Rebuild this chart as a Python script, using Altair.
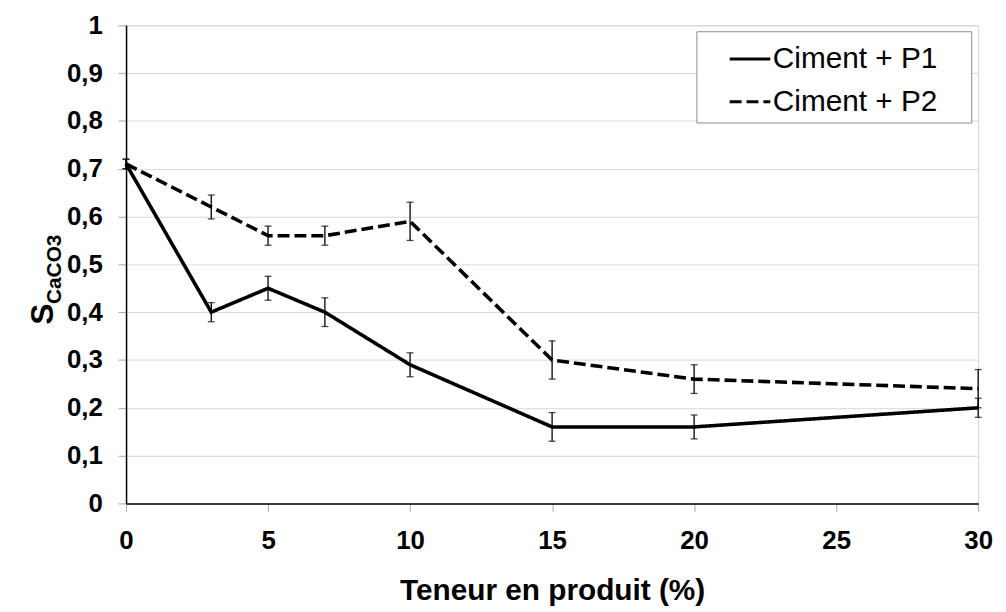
import altair as alt
import pandas as pd

# ---- data ----
teneur = [0, 3, 5, 7, 10, 15, 20, 30]
p1 = [0.71, 0.40, 0.45, 0.40, 0.29, 0.16, 0.16, 0.20]
p1_err = [0.01, 0.02, 0.025, 0.03, 0.025, 0.03, 0.025, 0.02]
p2 = [0.71, 0.62, 0.56, 0.56, 0.59, 0.30, 0.26, 0.24]
p2_err = [0.01, 0.025, 0.02, 0.02, 0.04, 0.04, 0.03, 0.04]
series_names = ["Ciment + P1", "Ciment + P2"]
x_ticks = [0, 5, 10, 15, 20, 25, 30]
y_ticks = [round(i * 0.1, 1) for i in range(11)]

rows = []
for name, vals, errs in [(series_names[0], p1, p1_err), (series_names[1], p2, p2_err)]:
    for t, v, e in zip(teneur, vals, errs):
        rows.append({"x": t, "y": v, "lo": v - e, "hi": v + e, "serie": name})
df = pd.DataFrame(rows)

FONT = "Liberation Sans"

x_enc = alt.X("x:Q", scale=alt.Scale(domain=[0, 30], nice=False, zero=False),
              axis=alt.Axis(values=x_ticks, title="Teneur en produit (%)", grid=False,
                            labelFont=FONT, labelFontSize=26, labelFontWeight="bold",
                            labelColor="black", labelPadding=16,
                            tickSize=8, tickColor="#a6a6a6", tickWidth=1,
                            domainColor="black", domainWidth=1.5,
                            titleFont=FONT, titleFontSize=30, titleFontWeight="bold",
                            titleColor="black", titlePadding=23, labelFlush=False))
y_enc = alt.Y("y:Q", scale=alt.Scale(domain=[0, 1], nice=False),
              axis=alt.Axis(values=y_ticks, title=None, grid=True, gridColor="#d9d9d9",
                            gridWidth=1,
                            labelExpr="replace(format(datum.value, '.1~f'), '.', ',')",
                            labelFont=FONT, labelFontSize=26, labelFontWeight="bold",
                            labelColor="black", labelPadding=16,
                            tickSize=8, tickColor="#a6a6a6", tickWidth=1,
                            domainColor="black", domainWidth=1.5, labelFlush=False))

dash = alt.StrokeDash("serie:N",
                      scale=alt.Scale(domain=series_names, range=[[1, 0], [12, 5]]),
                      legend=alt.Legend(title="\u00a0", titleOrient="right", titlePadding=28,
                                        titleFontSize=2, titleColor="white",
                                        orient="none", legendX=575, legendY=6,
                                        padding=6, symbolOffset=26, symbolType="stroke",
                                        symbolSize=1681, symbolStrokeWidth=3,
                                        symbolStrokeColor="black", labelOffset=1,
                                        labelFont=FONT, labelFontSize=30, labelColor="black",
                                        labelLimit=0,
                                        rowPadding=6, fillColor="white",
                                        strokeColor="#8c8c8c"))

base = alt.Chart(df)
lines = base.mark_line(color="black", strokeWidth=3.6).encode(x=x_enc, y=y_enc, strokeDash=dash)
bars = base.mark_rule(color="black", strokeWidth=1.3).encode(x="x:Q", y="lo:Q", y2="hi:Q")
cap_lo = base.mark_tick(color="black", orient="horizontal", size=7, thickness=1.3).encode(x="x:Q", y="lo:Q")
cap_hi = base.mark_tick(color="black", orient="horizontal", size=7, thickness=1.3).encode(x="x:Q", y="hi:Q")

title_s = alt.Chart(pd.DataFrame({"t": ["S"]})).mark_text(
    font=FONT, fontSize=32, fontWeight="bold", angle=270, align="left",
    baseline="alphabetic", color="black").encode(text="t:N", x=alt.value(-74), y=alt.value(302))
title_sub = alt.Chart(pd.DataFrame({"t": ["CaCO3"]})).mark_text(
    font=FONT, fontSize=21, fontWeight="bold", angle=270, align="left",
    baseline="alphabetic", color="black").encode(text="t:N", x=alt.value(-66), y=alt.value(281))

chart = alt.layer(lines, bars, cap_lo, cap_hi, title_s, title_sub).properties(
    width=859, height=482,
    autosize=alt.AutoSizeParams(type="none"),
    padding={"left": 119, "top": 15, "right": 20, "bottom": 104},
    background="white",
).configure_view(stroke="#d0d0d0", strokeWidth=1)

chart.save("out.html", embed_options={"renderer": "svg", "actions": False})
